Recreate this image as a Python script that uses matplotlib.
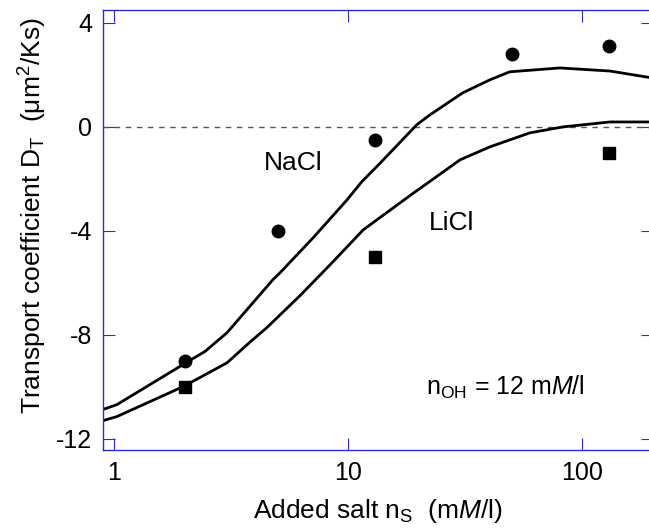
import matplotlib
matplotlib.use("Agg")
import matplotlib.pyplot as plt

# measured points
nacl_x = [2, 5, 13, 50, 130]
nacl_y = [-9.0, -4.0, -0.5, 2.8, 3.1]
licl_x = [2, 13, 130]
licl_y = [-10.0, -5.0, -1.0]

# theory curves
nacl_fit_x = [0.897, 1.03, 1.97, 2.45, 3.04, 3.8, 4.77, 5.11, 7.08, 9.88, 11.4, 13.6,
              19.6, 22.3, 30.8, 40.2, 48.9, 80.1, 131, 200]
nacl_fit_y = [-10.88, -10.69, -9.15, -8.64, -7.92, -6.91, -5.88, -5.62, -4.27, -2.81, -2.12, -1.42,
              0.08, 0.46, 1.31, 1.81, 2.12, 2.27, 2.15, 1.88]
licl_fit_x = [0.897, 1.03, 1.97, 2.45, 3.04, 3.8, 4.49, 6.22, 8.36, 11.6, 18.9, 22.3,
              30.0, 40.2, 59.6, 82.6, 131, 200]
licl_fit_y = [-11.31, -11.15, -10.0, -9.54, -9.08, -8.29, -7.73, -6.5, -5.31, -3.96, -2.56, -2.1,
              -1.27, -0.77, -0.23, 0.0, 0.19, 0.19]

x_ticks = [1, 10, 100]
x_tick_labels = ["1", "10", "100"]
y_ticks = [-12, -8, -4, 0, 4]

plt.rcParams['font.family'] = ['Liberation Sans', 'DejaVu Sans']
plt.rcParams['mathtext.fontset'] = 'custom'
plt.rcParams['mathtext.rm'] = 'Liberation Sans'
plt.rcParams['mathtext.it'] = 'Liberation Sans:italic'
plt.rcParams['mathtext.sf'] = 'Liberation Sans'
plt.rcParams['axes.unicode_minus'] = False

spine_color = '#2a2ad8'

fig = plt.figure(figsize=(6.49, 5.31), dpi=100)
ax = fig.add_axes([103 / 649, 80.7 / 531, 550 / 649, 440.3 / 531])

ax.axhline(0, color='#555555', lw=1.0, dashes=(4, 4))
ax.plot(nacl_fit_x, nacl_fit_y, color='black', lw=2.0)
ax.plot(licl_fit_x, licl_fit_y, color='black', lw=2.0)
ax.plot(nacl_x, nacl_y, 'o', color='black', markersize=9)
ax.plot(licl_x, licl_y, 's', color='black', markersize=9)

ax.set_xscale('log')
ax.set_xlim(0.8976, 200)
ax.set_ylim(-12.45, 4.5)
ax.set_xticks(x_ticks)
ax.set_xticklabels(x_tick_labels)
ax.minorticks_off()
ax.set_yticks(y_ticks)

for s in ax.spines.values():
    s.set_color(spine_color)
    s.set_linewidth(1.0)
ax.tick_params(which='both', direction='in', length=8.6, width=0.8, color=spine_color,
               top=True, right=True, labelsize=18, pad=8, labelcolor='black')

ax.text(5.8, -1.4, "NaCl", fontsize=19, ha='center', va='center')
ax.text(27.7, -3.7, "LiCl", fontsize=19, ha='center', va='center')
ax.text(47, -10.3, r"$\mathregular{n_{OH}}$ = 12 m$M$/l", fontsize=18, ha='center', va='baseline')

ax.set_xlabel(r"Added salt $\mathregular{n_S}$  (m$M$/l)", fontsize=19, labelpad=8)
fig.text(33 / 649, 1 - 216 / 531,
         r"Transport coefficient $\mathregular{D_T}$  ($\mathregular{\mu m^2}$/Ks)",
         fontsize=19, rotation=90, ha='center', va='center')

fig.savefig("out.png", dpi=100)
